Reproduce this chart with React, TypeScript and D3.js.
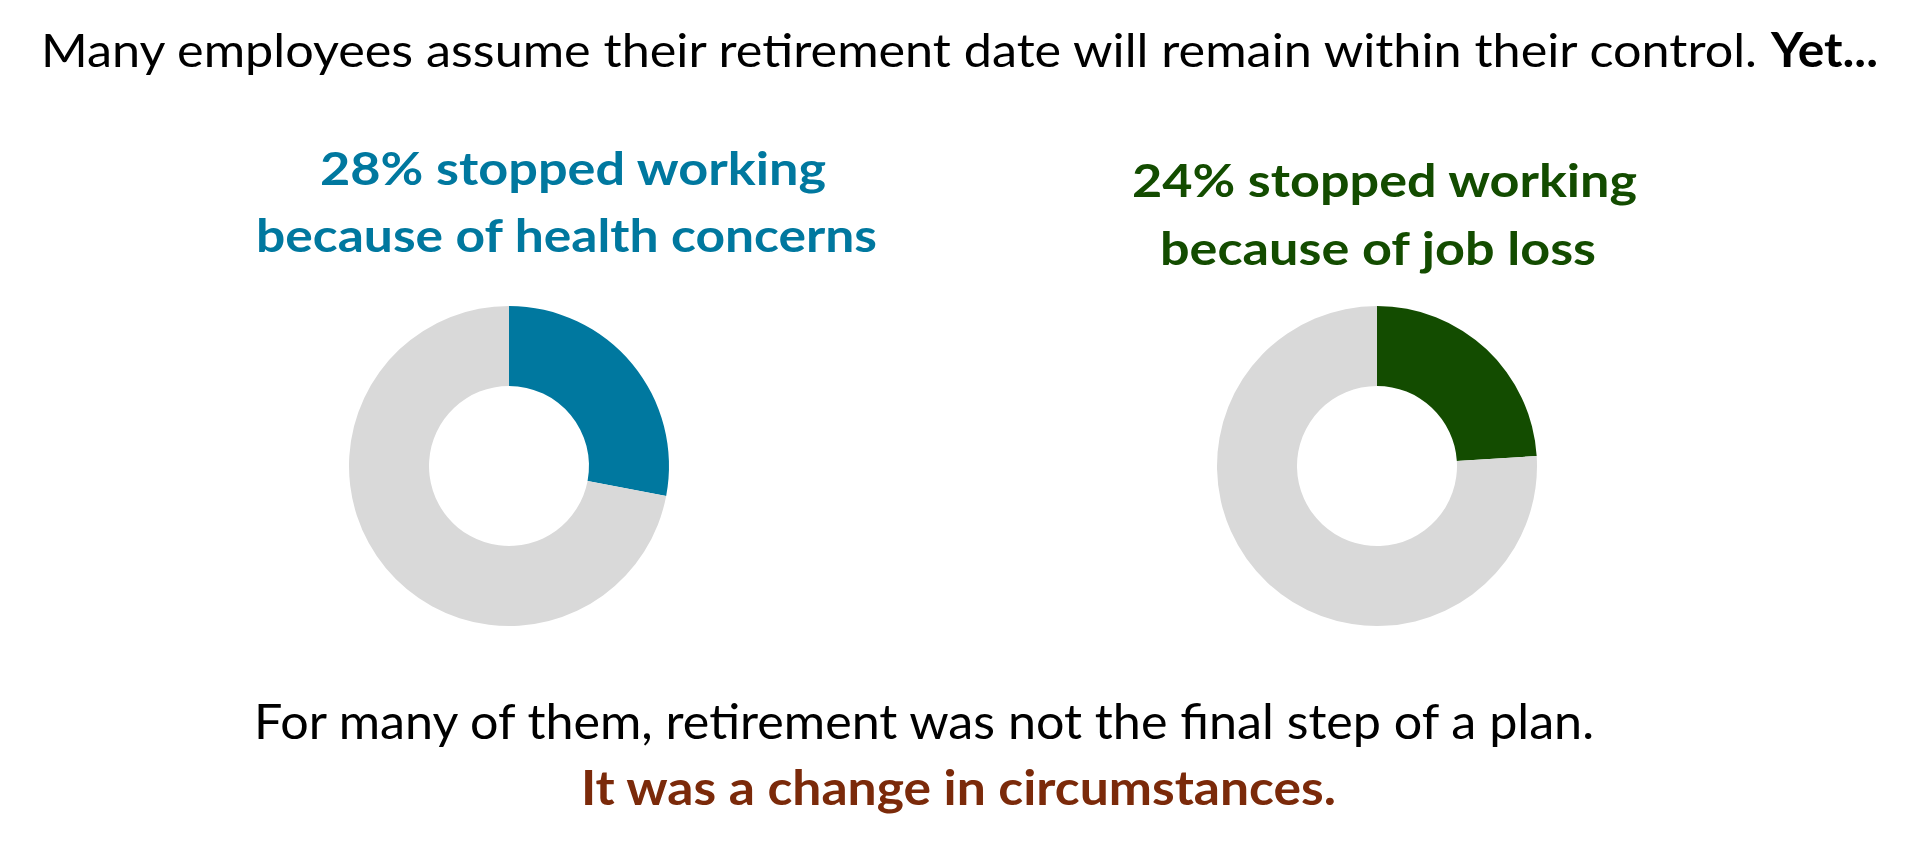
import * as d3 from 'd3'

// values
const reasons = ['health concerns', 'job loss']
const shares = [28, 24]
const headlines = [
    ['28% stopped working', 'because of health concerns'],
    ['24% stopped working', 'because of job loss'],
]
const colors = ['#00789f', '#134c00']
const restColor = '#d9d9d9'

const title = 'Many employees assume their retirement date will remain within their control.'
const titleBold = 'Yet...'
const footer = 'For many of them, retirement was not the final step of a plan.'
const footerBold = 'It was a change in circumstances.'

const FONT = 'Lato, "Open Sans", sans-serif'

const width = 1920
const height = 850
const outerR = 160
const innerR = 80
const centers = [509, 1377]
const cy = 466

// heading layout: [x, width] per line, baseline per line
const headLayout = [
    { lines: [[320, 506], [256, 621]], base: [185, 252] },
    { lines: [[1132, 505], [1160, 436]], base: [197, 265] },
]

export default function App() {
    const pie = d3.pie<number>().sort(null).value(d => d)
    const arc = d3.arc<d3.PieArcDatum<number>>().innerRadius(innerR).outerRadius(outerR)

    return (
        <svg
            width={width}
            height={height}
            style={{ position: 'absolute', left: 0, top: 0, background: '#fff' }}
            fontFamily={FONT}
        >
            {/* title */}
            <text x={41} y={67} fontSize={47} fill="#000" textLength={1716} lengthAdjust="spacingAndGlyphs">
                {title}
            </text>
            <text x={1771} y={67} fontSize={47} fontWeight={700} fill="#000" textLength={107} lengthAdjust="spacingAndGlyphs">
                {titleBold}
            </text>

            {reasons.map((r, i) => {
                const arcs = pie([shares[i], 100 - shares[i]])
                const hl = headLayout[i]
                return (
                    <g key={r}>
                        {headlines[i].map((line, j) => (
                            <text
                                key={j}
                                x={hl.lines[j][0]}
                                y={hl.base[j]}
                                fontSize={46}
                                fontWeight={700}
                                fill={colors[i]}
                                textLength={hl.lines[j][1]}
                                lengthAdjust="spacingAndGlyphs"
                            >
                                {line}
                            </text>
                        ))}
                        <g transform={`translate(${centers[i]},${cy})`}>
                            {arcs.map((a, k) => (
                                <path key={k} d={arc(a) || ''} fill={k === 0 ? colors[i] : restColor} />
                            ))}
                        </g>
                    </g>
                )
            })}

            {/* footer */}
            <text x={254} y={739} fontSize={48} fill="#000" textLength={1340} lengthAdjust="spacingAndGlyphs">
                {footer}
            </text>
            <text x={581} y={805} fontSize={48} fontWeight={700} fill="#7b2a0a" textLength={755} lengthAdjust="spacingAndGlyphs">
                {footerBold}
            </text>
        </svg>
    )
}
